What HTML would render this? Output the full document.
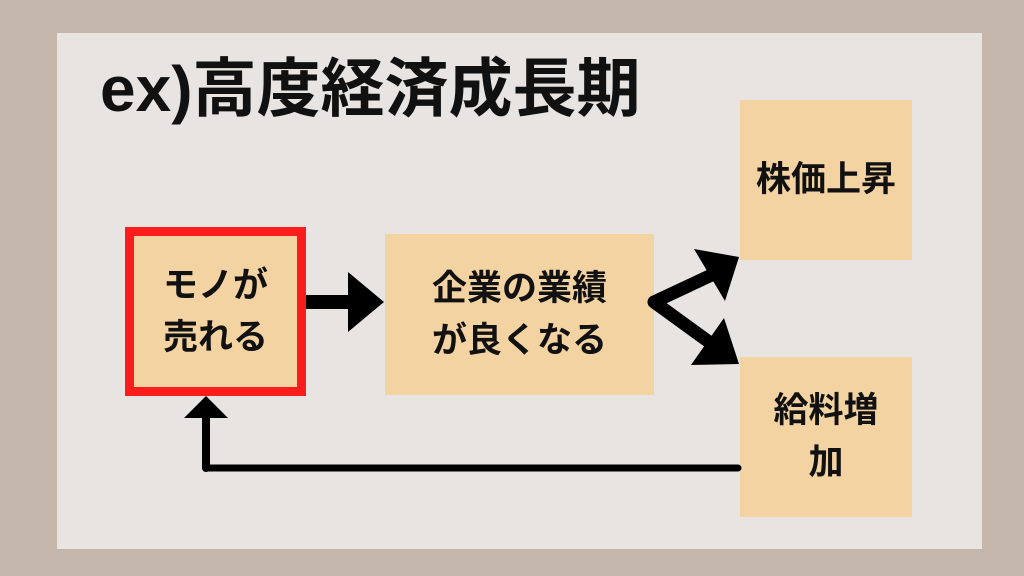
<!DOCTYPE html>
<html><head><meta charset="utf-8"><style>
body{margin:0;width:1024px;height:576px;background:#c5b6ac;position:relative;overflow:hidden;font-family:"Liberation Sans","Noto Sans CJK JP",sans-serif;font-weight:bold;}
.panel{position:absolute;left:57px;top:33px;width:925px;height:516px;background:#e8e4e1;}
.box{position:absolute;background:#f4d3a3;display:flex;align-items:center;justify-content:center;text-align:center;font-size:35px;line-height:52px;color:#111;}
.title{position:absolute;left:100px;top:57px;font-size:64px;line-height:64px;color:#111;letter-spacing:0px;white-space:nowrap;}
</style></head><body>
<div class="panel"></div>
<div class="title">ex)高度経済成長期</div>
<div class="box" style="left:125px;top:227px;width:163px;height:151px;border:9px solid #fb1c1c;">モノが<br>売れる</div>
<div class="box" style="left:385px;top:234px;width:269px;height:161px;">企業の業績<br>が良くなる</div>
<div class="box" style="left:740px;top:100px;width:172px;height:160px;">株価上昇</div>
<div class="box" style="left:740px;top:357px;width:172px;height:160px;">給料増<br>加</div>
<svg width="1024" height="576" style="position:absolute;left:0;top:0">
<line x1="306" y1="302" x2="352" y2="302" stroke="#000" stroke-width="14"/>
<polygon points="348,272 384,302 348,332" fill="#000"/>
<line x1="206" y1="468" x2="738" y2="468" stroke="#000" stroke-width="7" stroke-linecap="round"/>
<line x1="206" y1="468" x2="206" y2="412" stroke="#000" stroke-width="8" stroke-linecap="round"/>
<polygon points="184,418 206,396 228,418" fill="#000"/>
<polyline points="718,272 654,302 716,347" fill="none" stroke="#000" stroke-width="13" stroke-linejoin="round" stroke-linecap="round"/>
<polygon points="694,249 739,257 725,301" fill="#000"/>
<polygon points="724,318 739,364 691,365" fill="#000"/>
</svg>
</body></html>
